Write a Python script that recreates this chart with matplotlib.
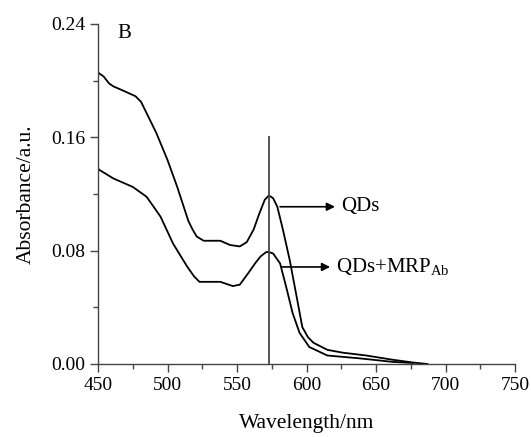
import matplotlib
matplotlib.use("Agg")
import matplotlib.pyplot as plt
from matplotlib.ticker import MultipleLocator

plt.rcParams["font.family"] = ["Liberation Serif", "DejaVu Serif"]
plt.rcParams["mathtext.fontset"] = "custom"
plt.rcParams["mathtext.rm"] = "Liberation Serif"

# QDs (upper curve)
wl_qd = [450, 451, 454, 458, 461, 468, 477, 481, 485, 492, 500, 507, 512, 515, 518, 521, 526, 538, 545, 552,
         557, 562, 566, 570, 573, 576, 579, 583, 588, 593, 597, 601, 605, 615, 626, 643, 662, 677, 687]
ab_qd = [0.206, 0.205, 0.203, 0.198, 0.196, 0.193, 0.189, 0.185, 0.177, 0.163, 0.144, 0.125, 0.110, 0.101,
         0.095, 0.090, 0.087, 0.087, 0.084, 0.083, 0.086, 0.095, 0.106, 0.116, 0.119, 0.117, 0.111, 0.095,
         0.073, 0.047, 0.026, 0.019, 0.015, 0.010, 0.008, 0.006, 0.003, 0.001, 0.0]

# QDs + MRP_Ab (lower curve)
wl_mrp = [450, 451, 461, 475, 485, 495, 504, 514, 519, 523, 538, 547, 552, 558, 563, 567, 571, 573, 576,
          581, 586, 590, 595, 602, 615, 638, 662, 677]
ab_mrp = [0.138, 0.137, 0.131, 0.125, 0.118, 0.104, 0.085, 0.069, 0.062, 0.058, 0.058, 0.055, 0.056, 0.064,
          0.071, 0.076, 0.079, 0.079, 0.078, 0.071, 0.052, 0.036, 0.022, 0.012, 0.006, 0.004, 0.0015, 0.0007]

peak_wl = 573

fig = plt.figure(figsize=(5.31, 4.37), dpi=100)
ax = fig.add_axes([98 / 531, (437 - 364) / 437, (515 - 98) / 531, (364 - 24) / 437])

ax.plot(wl_qd, ab_qd, color="black", lw=1.3)
ax.plot(wl_mrp, ab_mrp, color="black", lw=1.3)
ax.plot([peak_wl, peak_wl], [0, 0.160], color="#444444", lw=1.3)

ax.annotate("", xy=(622.5, 0.111), xytext=(579, 0.111),
            arrowprops=dict(arrowstyle="-|>", color="black", lw=1.2, mutation_scale=12))
ax.text(625, 0.111, "QDs", fontsize=15, va="center", ha="left")
ax.annotate("", xy=(619, 0.0685), xytext=(580, 0.0685),
            arrowprops=dict(arrowstyle="-|>", color="black", lw=1.2, mutation_scale=12))
ax.text(621.5, 0.0685, r"QDs+MRP$_{\mathrm{Ab}}$", fontsize=15, va="center", ha="left")

ax.text(464, 0.233, "B", fontsize=15, va="center", ha="left")

ax.set_xlim(450, 750)
ax.set_ylim(0, 0.24)
ax.xaxis.set_major_locator(MultipleLocator(50))
ax.xaxis.set_minor_locator(MultipleLocator(25))
ax.yaxis.set_major_locator(MultipleLocator(0.08))
ax.yaxis.set_minor_locator(MultipleLocator(0.04))
ax.yaxis.set_major_formatter(plt.FormatStrFormatter("%.2f"))

for s in ["top", "right"]:
    ax.spines[s].set_visible(False)
for s in ["left", "bottom"]:
    ax.spines[s].set_color("#444444")
    ax.spines[s].set_linewidth(1.0)

ax.tick_params(which="major", direction="out", length=6, width=1.0, color="#444444", labelsize=14, pad=3)
ax.tick_params(which="minor", direction="out", length=3.5, width=1.0, color="#444444")

ax.set_xlabel("Wavelength/nm", fontsize=15.5, labelpad=15)
ax.set_ylabel("Absorbance/a.u.", fontsize=15.5, labelpad=11)

fig.savefig("out.png", dpi=100)
